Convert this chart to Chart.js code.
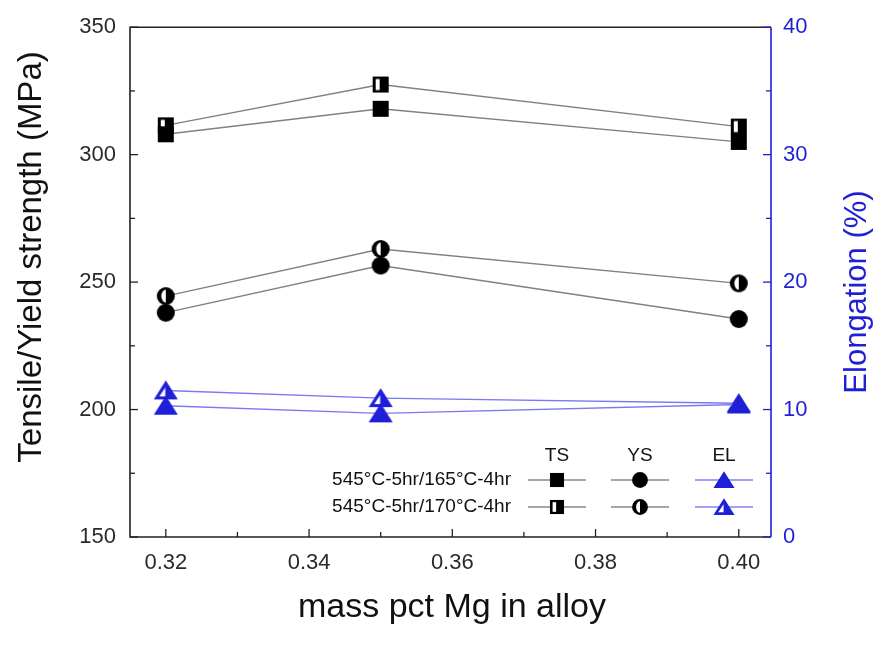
<!DOCTYPE html>
<html>
<head>
<meta charset="utf-8">
<script src="https://cdn.jsdelivr.net/npm/chart.js@4.4.1/dist/chart.umd.min.js"></script>
<style>
  html, body { margin: 0; padding: 0; background: #fff; }
  #wrap { width: 892px; height: 651px; }
</style>
</head>
<body>
<div id="wrap"><canvas id="myChart" width="892" height="651"></canvas></div>
<script>
// Data
const mgContent = [0.32, 0.35, 0.40];
const ts165 = [308, 318, 305];
const ts170 = [311.5, 327.5, 311];
const ys165 = [238, 256.5, 235.5];
const ys170 = [244.5, 263, 249.5];
const el165 = [10.3, 9.7, 10.4];
const el170 = [11.5, 10.9, 10.5];
const xTicks = [0.32, 0.34, 0.36, 0.38, 0.40];
const legendRows = ['545°C-5hr/165°C-4hr', '545°C-5hr/170°C-4hr'];
const legendCols = ['TS', 'YS', 'EL'];

const BLUE = '#1f1fd8';
const FONT = '"Liberation Sans", Arial, sans-serif';

// marker images (full / half filled), k = size factor
function makeMarker(shape, color, half, k) {
    const s = 28;
    const c = document.createElement('canvas');
    c.width = s; c.height = s;
    const g = c.getContext('2d');
    g.translate(s / 2, s / 2);
    g.scale(k, k);
    g.fillStyle = color;
    if (shape === 'square') {
        g.fillRect(-8, -8, 16, 16);
        if (half) { g.fillStyle = '#fff'; g.fillRect(-5, -5.5, 4, 11); }
    } else if (shape === 'circle') {
        g.beginPath(); g.arc(0, 0, 9, 0, Math.PI * 2); g.fill();
        if (half) {
            g.fillStyle = '#fff';
            g.beginPath(); g.ellipse(0, 0, 4.5, 6.5, 0, Math.PI / 2, Math.PI * 1.5); g.closePath(); g.fill();
        }
    } else {
        g.beginPath(); g.moveTo(0, -10); g.lineTo(12, 9); g.lineTo(-12, 9); g.closePath(); g.fill();
        if (half) {
            g.fillStyle = '#fff';
            g.beginPath(); g.moveTo(-0.5, -3); g.lineTo(-0.5, 6); g.lineTo(-6.5, 6); g.closePath(); g.fill();
        }
    }
    return c;
}

function markerSet(k) {
    return {
        ts165: makeMarker('square', '#000', false, k),
        ts170: makeMarker('square', '#000', true, k),
        ys165: makeMarker('circle', '#000', false, k),
        ys170: makeMarker('circle', '#000', true, k),
        el165: makeMarker('triangle', BLUE, false, k),
        el170: makeMarker('triangle', BLUE, true, k)
    };
}
const mk = markerSet(1);
const mkLegend = markerSet(0.88);

function pts(vals) {
    return mgContent.map((x, i) => ({ x: x, y: vals[i] }));
}

function series(label, vals, marker, lineColor, axis) {
    return {
        label: label,
        data: pts(vals),
        yAxisID: axis,
        showLine: true,
        borderColor: lineColor,
        borderWidth: 1.4,
        pointStyle: marker,
        pointRadius: 12,
        pointHoverRadius: 12,
        tension: 0
    };
}

// axes frame, inward ticks, titles and legend
const decorations = {
    id: 'decorations',
    afterDraw(chart) {
        const ctx = chart.ctx;
        const a = chart.chartArea;
        const x = chart.scales.x, y = chart.scales.y, y2 = chart.scales.y2;
        ctx.save();
        ctx.lineWidth = 1.6;
        ctx.strokeStyle = '#222';
        ctx.beginPath();
        ctx.moveTo(a.right, a.top); ctx.lineTo(a.left, a.top); ctx.lineTo(a.left, a.bottom); ctx.lineTo(a.right, a.bottom);
        ctx.stroke();
        ctx.strokeStyle = BLUE;
        ctx.beginPath(); ctx.moveTo(a.right, a.top); ctx.lineTo(a.right, a.bottom); ctx.stroke();

        ctx.lineWidth = 1.3;
        ctx.strokeStyle = '#222';
        for (let v = 0.32; v <= 0.4001; v += 0.01) {
            const px = x.getPixelForValue(v);
            const major = Math.round(v * 100) % 2 === 0;
            ctx.beginPath(); ctx.moveTo(px, a.bottom); ctx.lineTo(px, a.bottom - (major ? 8 : 5)); ctx.stroke();
        }
        for (let v = 150; v <= 350; v += 25) {
            const py = y.getPixelForValue(v);
            const major = v % 50 === 0;
            ctx.beginPath(); ctx.moveTo(a.left, py); ctx.lineTo(a.left + (major ? 8 : 5), py); ctx.stroke();
        }
        ctx.strokeStyle = BLUE;
        for (let v = 0; v <= 40; v += 5) {
            const py = y2.getPixelForValue(v);
            const major = v % 10 === 0;
            ctx.beginPath(); ctx.moveTo(a.right, py); ctx.lineTo(a.right - (major ? 8 : 5), py); ctx.stroke();
        }

        // axis titles
        ctx.textAlign = 'center';
        ctx.textBaseline = 'middle';
        ctx.fillStyle = '#111';
        ctx.font = '34px ' + FONT;
        ctx.fillText('mass pct Mg in alloy', 452, 608);

        ctx.translate(32, 257);
        ctx.rotate(-Math.PI / 2);
        ctx.font = '33px ' + FONT;
        ctx.fillText('Tensile/Yield strength (MPa)', 0, 0);
        ctx.setTransform(1, 0, 0, 1, 0, 0);

        ctx.fillStyle = BLUE;
        ctx.translate(857, 292);
        ctx.rotate(-Math.PI / 2);
        ctx.font = '31px ' + FONT;
        ctx.fillText('Elongation (%)', 0, 0);
        ctx.setTransform(1, 0, 0, 1, 0, 0);

        // legend table
        const colX = [557, 640, 724];
        const rowY = [480, 507];
        ctx.font = '19px ' + FONT;
        ctx.fillStyle = '#111';
        ctx.textAlign = 'center';
        legendCols.forEach((t, i) => ctx.fillText(t, colX[i], 456));
        ctx.textAlign = 'right';
        legendRows.forEach((t, r) => ctx.fillText(t, 511, rowY[r]));
        const rowMarkers = [[mkLegend.ts165, mkLegend.ys165, mkLegend.el165], [mkLegend.ts170, mkLegend.ys170, mkLegend.el170]];
        const colLine = ['#888', '#888', '#8080f0'];
        rowY.forEach((yy, r) => {
            colX.forEach((xx, i) => {
                ctx.strokeStyle = colLine[i];
                ctx.lineWidth = 1.4;
                ctx.beginPath(); ctx.moveTo(xx - 29, yy); ctx.lineTo(xx + 29, yy); ctx.stroke();
                ctx.drawImage(rowMarkers[r][i], xx - 14, yy - 14);
            });
        });
        ctx.restore();
    }
};

const ctx1 = document.getElementById('myChart').getContext('2d');
new Chart(ctx1, {
    type: 'scatter',
    data: {
        datasets: [
            series('TS 165', ts165, mk.ts165, '#808080', 'y'),
            series('TS 170', ts170, mk.ts170, '#808080', 'y'),
            series('YS 165', ys165, mk.ys165, '#808080', 'y'),
            series('YS 170', ys170, mk.ys170, '#808080', 'y'),
            series('EL 165', el165, mk.el165, '#7a7af0', 'y2'),
            series('EL 170', el170, mk.el170, '#7a7af0', 'y2')
        ]
    },
    options: {
        responsive: false,
        animation: false,
        layout: { padding: { top: 24, left: 0, right: 0, bottom: 0 }, autoPadding: false },
        plugins: { legend: { display: false }, tooltip: { enabled: false } },
        scales: {
            x: {
                type: 'linear',
                min: 0.315,
                max: 0.4045,
                afterBuildTicks: s => { s.ticks = xTicks.map(v => ({ value: v })); },
                afterFit: s => { s.height = 114; },
                grid: { display: false, drawTicks: false },
                border: { display: false },
                ticks: {
                    padding: 13,
                    color: '#2a2a2a',
                    font: { family: FONT, size: 22 },
                    callback: v => v.toFixed(2)
                }
            },
            y: {
                position: 'left',
                min: 150,
                max: 350,
                afterFit: s => { s.width = 130; },
                grid: { display: false, drawTicks: false },
                border: { display: false },
                ticks: {
                    stepSize: 50,
                    padding: 14,
                    color: '#2a2a2a',
                    font: { family: FONT, size: 22 }
                }
            },
            y2: {
                position: 'right',
                min: 0,
                max: 40,
                afterFit: s => { s.width = 121; },
                grid: { display: false, drawTicks: false },
                border: { display: false },
                ticks: {
                    stepSize: 10,
                    padding: 12,
                    color: BLUE,
                    font: { family: FONT, size: 22 }
                }
            }
        }
    },
    plugins: [decorations]
});
</script>
</body>
</html>
